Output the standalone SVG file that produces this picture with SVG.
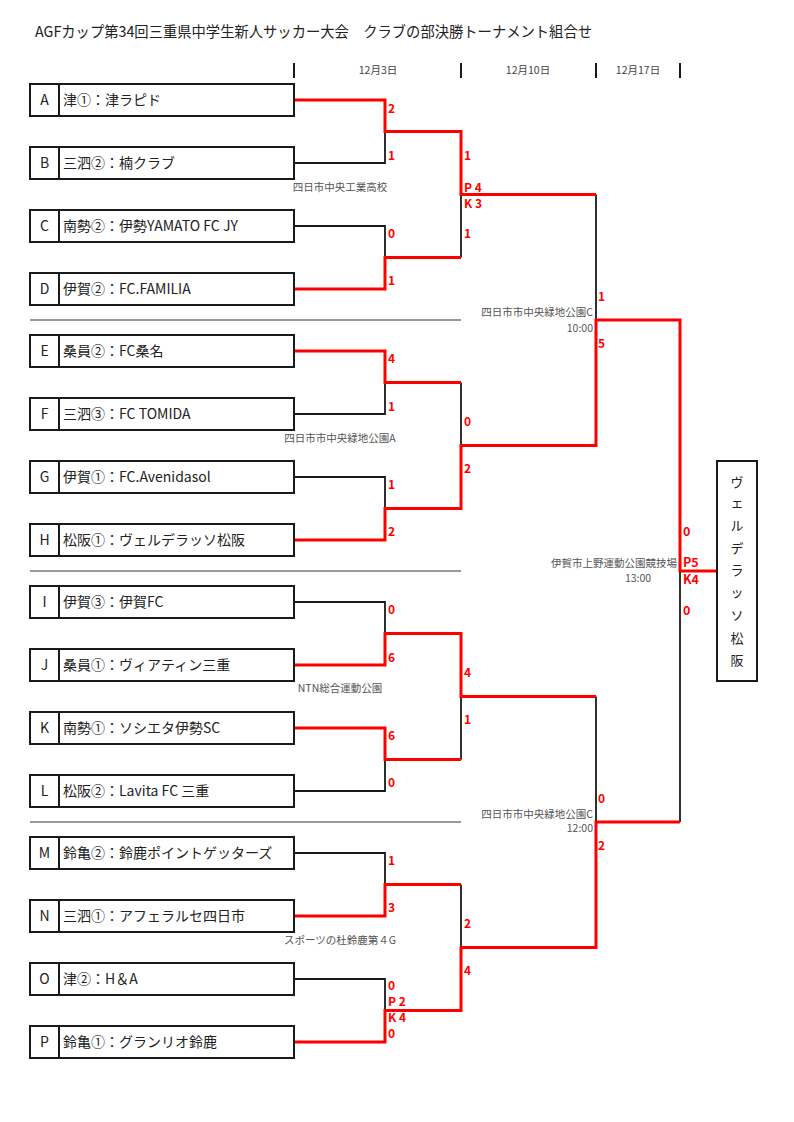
<svg xmlns="http://www.w3.org/2000/svg" width="794" height="1122" viewBox="0 0 794 1122">
<style>
.t{font-family:"Noto Sans CJK JP","Noto Sans",sans-serif;fill:#222}
.title{font-size:15px}
.date{font-size:10.5px;fill:#444;text-anchor:middle}
.box{fill:#fff;stroke:#1a1a1a;stroke-width:2}
.cell{stroke:#1a1a1a;stroke-width:2}
.lt{font-size:14px;text-anchor:middle}
.nm{font-size:14px}
.blk{fill:none;stroke:#1a1a1a;stroke-width:1.8}
.red{fill:none;stroke:#ff0000;stroke-width:3}
.div{stroke:#777;stroke-width:1.5}
.tick{stroke:#1a1a1a;stroke-width:2}
.sc{font-family:"Noto Sans CJK JP","Liberation Sans",sans-serif;font-weight:bold;font-size:12px;fill:#ff0000}
.scb{font-size:12.5px}
.ven{font-size:10.5px;fill:#555}
.vc{text-anchor:middle}
.ve{text-anchor:end}
.win{font-size:13px;text-anchor:middle}
</style>

<text class="t title" x="35" y="37" textLength="557" lengthAdjust="spacingAndGlyphs">AGFカップ第34回三重県中学生新人サッカー大会　クラブの部決勝トーナメント組合せ</text>

<g id="header">
<line class="tick" x1="294" y1="63" x2="294" y2="78"/>
<line class="tick" x1="461" y1="63" x2="461" y2="78"/>
<line class="tick" x1="596" y1="63" x2="596" y2="78"/>
<line class="tick" x1="680" y1="63" x2="680" y2="78"/>
<text class="t date" x="378" y="74">12月3日</text>
<text class="t date" x="528" y="74">12月10日</text>
<text class="t date" x="638" y="74">12月17日</text>
</g>

<g id="dividers">
<line class="div" x1="30" y1="320" x2="461" y2="320"/>
<line class="div" x1="30" y1="571" x2="461" y2="571"/>
<line class="div" x1="30" y1="822" x2="461" y2="822"/>
</g>

<g id="connectors">
<g id="black-lines">
<path class="blk" d="M294 163H385V131.5"/>
<path class="blk" d="M294 226H385V257.5"/>
<path class="blk" d="M294 414H385V382.5"/>
<path class="blk" d="M294 477H385V508.5"/>
<path class="blk" d="M294 602H385V633.5"/>
<path class="blk" d="M294 791H385V759.5"/>
<path class="blk" d="M294 853H385V884.5"/>
<path class="blk" d="M294 979H385V1010.5"/>
<path class="blk" d="M461 194.5V257.5"/>
<path class="blk" d="M461 382.5V445.5"/>
<path class="blk" d="M461 696.5V759.5"/>
<path class="blk" d="M461 884.5V947.5"/>
<path class="blk" d="M596 194.5V320"/>
<path class="blk" d="M596 696.5V822"/>
<path class="blk" d="M680 571V822"/>
</g>
<g id="red-lines">
<path class="red" d="M294 100H385V131.5H461V194.5H596"/>
<path class="red" d="M294 289H385V257.5H461"/>
<path class="red" d="M294 351H385V382.5H461"/>
<path class="red" d="M294 540H385V508.5H461V445.5H596V320H680V571H717"/>
<path class="red" d="M294 665H385V633.5H461V696.5H596"/>
<path class="red" d="M294 728H385V759.5H461"/>
<path class="red" d="M294 916H385V884.5H461"/>
<path class="red" d="M294 1042H385V1010.5H461V947.5H596V822H680"/>
</g>
</g>

<g id="team-A"><rect class="box" x="30" y="84" width="264" height="32"/><line class="cell" x1="59" y1="84" x2="59" y2="116"/><text class="t lt" x="44.5" y="105">A</text><text class="t nm" x="63" y="105">津①：津ラピド</text></g>
<g id="team-B"><rect class="box" x="30" y="147" width="264" height="32"/><line class="cell" x1="59" y1="147" x2="59" y2="179"/><text class="t lt" x="44.5" y="168">B</text><text class="t nm" x="63" y="168">三泗②：楠クラブ</text></g>
<g id="team-C"><rect class="box" x="30" y="210" width="264" height="32"/><line class="cell" x1="59" y1="210" x2="59" y2="242"/><text class="t lt" x="44.5" y="231">C</text><text class="t nm" x="63" y="231">南勢②：伊勢YAMATO FC JY</text></g>
<g id="team-D"><rect class="box" x="30" y="273" width="264" height="32"/><line class="cell" x1="59" y1="273" x2="59" y2="305"/><text class="t lt" x="44.5" y="294">D</text><text class="t nm" x="63" y="294">伊賀②：FC.FAMILIA</text></g>
<g id="team-E"><rect class="box" x="30" y="335" width="264" height="32"/><line class="cell" x1="59" y1="335" x2="59" y2="367"/><text class="t lt" x="44.5" y="356">E</text><text class="t nm" x="63" y="356">桑員②：FC桑名</text></g>
<g id="team-F"><rect class="box" x="30" y="398" width="264" height="32"/><line class="cell" x1="59" y1="398" x2="59" y2="430"/><text class="t lt" x="44.5" y="419">F</text><text class="t nm" x="63" y="419">三泗③：FC TOMIDA</text></g>
<g id="team-G"><rect class="box" x="30" y="461" width="264" height="32"/><line class="cell" x1="59" y1="461" x2="59" y2="493"/><text class="t lt" x="44.5" y="482">G</text><text class="t nm" x="63" y="482">伊賀①：FC.Avenidasol</text></g>
<g id="team-H"><rect class="box" x="30" y="524" width="264" height="32"/><line class="cell" x1="59" y1="524" x2="59" y2="556"/><text class="t lt" x="44.5" y="545">H</text><text class="t nm" x="63" y="545">松阪①：ヴェルデラッソ松阪</text></g>
<g id="team-I"><rect class="box" x="30" y="586" width="264" height="32"/><line class="cell" x1="59" y1="586" x2="59" y2="618"/><text class="t lt" x="44.5" y="607">I</text><text class="t nm" x="63" y="607">伊賀③：伊賀FC</text></g>
<g id="team-J"><rect class="box" x="30" y="649" width="264" height="32"/><line class="cell" x1="59" y1="649" x2="59" y2="681"/><text class="t lt" x="44.5" y="670">J</text><text class="t nm" x="63" y="670">桑員①：ヴィアティン三重</text></g>
<g id="team-K"><rect class="box" x="30" y="712" width="264" height="32"/><line class="cell" x1="59" y1="712" x2="59" y2="744"/><text class="t lt" x="44.5" y="733">K</text><text class="t nm" x="63" y="733">南勢①：ソシエタ伊勢SC</text></g>
<g id="team-L"><rect class="box" x="30" y="775" width="264" height="32"/><line class="cell" x1="59" y1="775" x2="59" y2="807"/><text class="t lt" x="44.5" y="796">L</text><text class="t nm" x="63" y="796">松阪②：Lavita FC 三重</text></g>
<g id="team-M"><rect class="box" x="30" y="837" width="264" height="32"/><line class="cell" x1="59" y1="837" x2="59" y2="869"/><text class="t lt" x="44.5" y="858">M</text><text class="t nm" x="63" y="858">鈴亀②：鈴鹿ポイントゲッターズ</text></g>
<g id="team-N"><rect class="box" x="30" y="900" width="264" height="32"/><line class="cell" x1="59" y1="900" x2="59" y2="932"/><text class="t lt" x="44.5" y="921">N</text><text class="t nm" x="63" y="921">三泗①：アフェラルセ四日市</text></g>
<g id="team-O"><rect class="box" x="30" y="963" width="264" height="32"/><line class="cell" x1="59" y1="963" x2="59" y2="995"/><text class="t lt" x="44.5" y="984">O</text><text class="t nm" x="63" y="984">津②：H＆A</text></g>
<g id="team-P"><rect class="box" x="30" y="1026" width="264" height="32"/><line class="cell" x1="59" y1="1026" x2="59" y2="1058"/><text class="t lt" x="44.5" y="1047">P</text><text class="t nm" x="63" y="1047">鈴亀①：グランリオ鈴鹿</text></g>

<g id="winner">
<rect class="box" x="717" y="461" width="40" height="220"/>
<text class="t win" x="737" y="487">ヴ</text>
<text class="t win" x="737" y="507">ェ</text>
<text class="t win" x="737" y="530">ル</text>
<text class="t win" x="737" y="553">デ</text>
<text class="t win" x="737" y="575">ラ</text>
<text class="t win" x="737" y="597">ッ</text>
<text class="t win" x="737" y="620">ソ</text>
<text class="t win" x="737" y="643">松</text>
<text class="t win" x="737" y="665">阪</text>
</g>

<g id="scores">
<text class="sc" x="388" y="113">2</text>
<text class="sc" x="388" y="160">1</text>
<text class="sc" x="388" y="238">0</text>
<text class="sc" x="388" y="285">1</text>
<text class="sc" x="388" y="363">4</text>
<text class="sc" x="388" y="411">1</text>
<text class="sc" x="388" y="489">1</text>
<text class="sc" x="388" y="536">2</text>
<text class="sc" x="388" y="614">0</text>
<text class="sc" x="388" y="662">6</text>
<text class="sc" x="388" y="740">6</text>
<text class="sc" x="388" y="787">0</text>
<text class="sc" x="388" y="865">1</text>
<text class="sc" x="388" y="912">3</text>
<text class="sc" x="388" y="990">0</text>
<text class="sc" x="388" y="1006">P 2</text>
<text class="sc" x="388" y="1022">K 4</text>
<text class="sc" x="388" y="1038">0</text>

<text class="sc" x="464" y="160">1</text>
<text class="sc" x="464" y="192">P 4</text>
<text class="sc" x="464" y="208">K 3</text>
<text class="sc" x="464" y="238">1</text>
<text class="sc" x="464" y="426">0</text>
<text class="sc" x="464" y="473">2</text>
<text class="sc" x="464" y="677">4</text>
<text class="sc" x="464" y="724">1</text>
<text class="sc" x="464" y="928">2</text>
<text class="sc" x="464" y="975">4</text>

<text class="sc" x="598" y="301">1</text>
<text class="sc" x="598" y="348">5</text>
<text class="sc" x="598" y="803">0</text>
<text class="sc" x="598" y="850">2</text>

<text class="sc scb" x="683" y="536">0</text>
<text class="sc scb" x="683" y="567">P5</text>
<text class="sc scb" x="683" y="584">K4</text>
<text class="sc scb" x="683" y="615">0</text>
</g>

<g id="venues">
<text class="t ven vc" x="340" y="191">四日市中央工業高校</text>
<text class="t ven vc" x="340" y="442">四日市市中央緑地公園A</text>
<text class="t ven vc" x="340" y="692">NTN総合運動公園</text>
<text class="t ven vc" x="340" y="944">スポーツの杜鈴鹿第４G</text>
<text class="t ven ve" x="593" y="316">四日市市中央緑地公園C</text>
<text class="t ven ve" x="593" y="332">10:00</text>
<text class="t ven ve" x="593" y="818">四日市市中央緑地公園C</text>
<text class="t ven ve" x="593" y="832">12:00</text>
<text class="t ven ve" x="677" y="567">伊賀市上野運動公園競技場</text>
<text class="t ven vc" x="638" y="582">13:00</text>
</g>
</svg>
